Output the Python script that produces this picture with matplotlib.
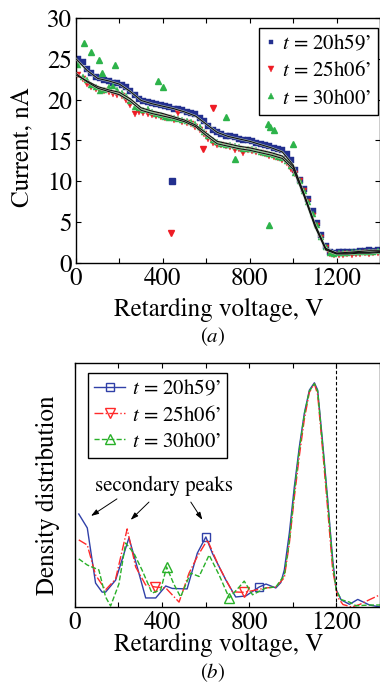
import numpy as np
import matplotlib
matplotlib.use("Agg")
import matplotlib.pyplot as plt
from matplotlib.ticker import FixedLocator, FuncFormatter

plt.rcParams['font.family'] = ['STIXGeneral', 'Liberation Serif', 'DejaVu Serif']
plt.rcParams['mathtext.fontset'] = 'stix'

# ---- panel (a): measured current ----
volt = np.arange(10, 1400, 20)

cur_blue = [25.0, 24.6, 23.8, 23.3, 22.8, 22.6, 22.4, 22.3, 22.1, 22.0,
            21.8, 21.5, 21.1, 20.6, 20.1, 19.8, 19.7, 19.6, 19.5, 19.3,
            19.2, 19.1, 18.9, 18.8, 18.7, 18.5, 18.4, 18.2, 17.8, 17.4,
            16.8, 16.3, 16.0, 15.8, 15.6, 15.5, 15.4, 15.2, 15.1, 15.0,
            14.9, 14.7, 14.6, 14.4, 14.3, 14.1, 13.9, 13.8, 13.4, 12.6,
            11.4, 10.2, 9.0, 7.8, 6.4, 4.9, 3.4, 2.1, 1.4, 1.2,
            1.3, 1.3, 1.4, 1.4, 1.4, 1.5, 1.5, 1.6, 1.5, 1.6]
cur_red = [23.0, 22.5, 21.9, 21.5, 21.3, 21.1, 21.0, 20.9, 20.7, 20.6,
           20.4, 20.0, 19.3, 18.3, 18.5, 18.4, 18.2, 18.1, 18.0, 17.9,
           17.8, 17.7, 17.5, 18.4, 17.3, 17.2, 17.0, 16.7, 16.3, 15.8,
           15.2, 14.7, 14.5, 14.4, 14.3, 14.2, 13.8, 14.0, 13.5, 13.8,
           13.7, 13.6, 13.5, 13.3, 13.1, 13.0, 12.8, 12.6, 12.3, 11.5,
           10.9, 10.0, 8.8, 7.5, 5.8, 4.5, 3.0, 1.8, 1.1, 1.0,
           1.0, 1.0, 1.1, 1.0, 1.1, 1.1, 1.2, 1.1, 1.2, 1.2]
cur_green = [24.2, 22.8, 22.4, 21.8, 21.5, 21.0, 21.2, 21.5, 21.7, 21.2,
             20.8, 20.4, 19.8, 19.1, 19.0, 18.7, 18.9, 18.5, 18.3, 18.1,
             17.9, 17.8, 17.7, 17.6, 17.5, 17.4, 17.3, 17.0, 16.6, 16.1,
             15.5, 15.0, 14.8, 14.6, 14.5, 14.4, 14.3, 14.2, 14.0, 14.0,
             13.9, 13.8, 13.6, 13.5, 13.3, 13.2, 13.0, 12.9, 12.5, 11.9,
             11.0, 10.0, 8.8, 7.5, 6.0, 4.6, 3.2, 1.9, 1.2, 1.1,
             1.2, 1.2, 1.2, 1.3, 1.3, 1.3, 1.4, 1.4, 1.4, 1.5]

# outliers
out_blue_v, out_blue_i = [440], [10.1]
out_red_v, out_red_i = [438, 586, 629], [3.7, 14.0, 19.0]
out_green_v = [37, 67, 105, 118, 179, 377, 400, 690, 731, 884, 892, 911, 1000, 890]
out_green_i = [26.9, 25.8, 24.9, 23.3, 24.3, 22.3, 21.6, 17.9, 12.7, 17.0, 16.6, 16.3, 14.6, 4.7]

# fitted curves
fit_v = np.arange(0, 1401, 50)
fit_blue = [25.0, 23.6, 22.6, 22.3, 21.9, 21.0, 19.9, 19.5, 19.2, 18.9, 18.5, 18.0, 17.0, 16.0, 15.5,
            15.2, 14.9, 14.5, 14.1, 13.6, 12.0, 8.5, 4.8, 1.8, 1.2, 1.3, 1.4, 1.5, 1.5]
fit_red = [23.2, 22.2, 21.4, 21.0, 20.6, 19.8, 18.7, 18.3, 18.0, 17.7, 17.3, 16.7, 15.6, 14.6, 14.3,
           14.0, 13.8, 13.5, 13.2, 12.8, 11.5, 8.2, 4.5, 1.6, 1.1, 1.1, 1.2, 1.2, 1.3]
fit_green = [23.0, 22.3, 21.6, 21.2, 20.9, 20.1, 19.0, 18.6, 18.3, 17.9, 17.5, 16.9, 15.9, 14.9, 14.6,
             14.3, 14.1, 13.8, 13.5, 13.1, 11.8, 8.4, 4.6, 1.7, 1.2, 1.2, 1.3, 1.3, 1.4]

labels = ["$t$ = 20h59\u2019", "$t$ = 25h06\u2019", "$t$ = 30h00\u2019"]
c_blue, c_red, c_green = "#23308f", "#ee1c25", "#2db34a"

# ---- panel (b): density distribution ----
dv_blue = [18, 57, 95, 125, 141, 187, 248, 286, 325, 371, 417, 447, 515, 562, 601, 631, 693, 738,
           784, 846, 877, 922, 945, 961, 984, 1007, 1030, 1053, 1076, 1099, 1114, 1137, 1160, 1183,
           1199, 1222, 1260, 1298, 1352, 1400]
dd_blue = [0.381, 0.324, 0.098, 0.061, 0.061, 0.11, 0.283, 0.164, 0.037, 0.037, 0.086, 0.076, 0.074,
           0.221, 0.287, 0.22, 0.11, 0.041, 0.045, 0.082, 0.094, 0.078, 0.10, 0.152, 0.303, 0.493,
           0.657, 0.795, 0.889, 0.919, 0.889, 0.672, 0.439, 0.193, 0.070, 0.029, 0.011, 0.031,
           0.008, 0.0]
dv_red = [18, 57, 95, 141, 187, 240, 279, 325, 368, 417, 478, 524, 562, 608, 662, 723, 777, 877,
          922, 961, 984, 1007, 1030, 1053, 1076, 1099, 1114, 1137, 1160, 1183, 1206, 1230, 1270,
          1306, 1352, 1400]
dd_red = [0.275, 0.254, 0.131, 0.07, 0.115, 0.32, 0.164, 0.09, 0.082, 0.078, 0.02, 0.139, 0.207,
          0.275, 0.164, 0.062, 0.06, 0.078, 0.082, 0.12, 0.26, 0.45, 0.62, 0.77, 0.88, 0.915, 0.87,
          0.64, 0.40, 0.15, 0.04, 0.01, 0.0, 0.01, 0.03, 0.05]
dv_green = [18, 57, 110, 141, 164, 202, 233, 271, 308, 354, 394, 421, 454, 485, 531, 570, 616, 662,
            708, 754, 777, 815, 877, 922, 961, 984, 1007, 1030, 1053, 1076, 1099, 1114, 1137, 1160,
            1183, 1199, 1222, 1260, 1290, 1352, 1400]
dd_green = [0.197, 0.172, 0.152, 0.041, 0.004, 0.094, 0.262, 0.22, 0.152, 0.057, 0.07, 0.164, 0.094,
            0.041, 0.139, 0.125, 0.213, 0.131, 0.037, 0.082, 0.106, 0.05, 0.078, 0.082, 0.13, 0.27,
            0.47, 0.645, 0.79, 0.885, 0.915, 0.885, 0.66, 0.43, 0.18, 0.07, 0.03, 0.02, 0.005,
            0.008, 0.008]

fig = plt.figure(figsize=(3.8, 6.84), dpi=100)


def style_axes(ax):
    ax.set_xlim(0, 1400)
    ax.xaxis.set_major_locator(FixedLocator(range(0, 1401, 200)))
    ax.xaxis.set_major_formatter(FuncFormatter(lambda v, p: "%d" % v if v % 400 == 0 and v < 1400 else ""))
    ax.tick_params(direction="in", top=True, right=True, labelsize=18, length=3.5, width=0.8, pad=3)
    for s in ax.spines.values():
        s.set_linewidth(1.0)


# panel (a)
ax1 = fig.add_axes([0.2, 0.6155, 0.8, 0.3582])
for cur, col, mk, ms, lab in [(cur_blue, c_blue, "s", 4.0, labels[0]),
                              (cur_red, c_red, "v", 4.8, labels[1]),
                              (cur_green, c_green, "^", 4.8, labels[2])]:
    ax1.plot(volt, cur, ls="none", marker=mk, ms=ms, color=col, mec=col, mew=0.3, label=lab)
ax1.plot(out_blue_v, out_blue_i, ls="none", marker="s", ms=4.0, color=c_blue)
ax1.plot(out_red_v, out_red_i, ls="none", marker="v", ms=4.8, color=c_red)
ax1.plot(out_green_v, out_green_i, ls="none", marker="^", ms=4.8, color=c_green)
for fit, col in [(fit_blue, c_blue), (fit_red, c_red), (fit_green, c_green)]:
    ax1.plot(fit_v, fit, color="#cfe3cf", lw=1.6, alpha=0.8, zorder=4)
    ax1.plot(fit_v, fit, color="#111111", lw=0.8, zorder=5)
ax1.set_ylim(0, 30)
ax1.set_yticks(range(0, 31, 5))
style_axes(ax1)
leg1 = ax1.legend(loc="upper right", bbox_to_anchor=(0.993, 0.96), fontsize=15,
                  handlelength=0.5, handletextpad=0.3, borderpad=0.3, labelspacing=0.35,
                  fancybox=False, framealpha=1, edgecolor="black", borderaxespad=0,
                  markerscale=0.8)
leg1.get_frame().set_linewidth(1.0)

# panel (b)
ax2 = fig.add_axes([0.197, 0.1126, 0.803, 0.3567])
ax2.plot(dv_blue, dd_blue, color="#3040a8", lw=1.0, ls="-", marker="s", ms=6, mfc="none",
         markevery=[14, 19], label=labels[0])
ax2.plot(dv_red, dd_red, color="#ff2a2a", lw=1.0, ls="-.", marker="v", ms=7, mfc="none",
         markevery=[8, 16], label=labels[1])
ax2.plot(dv_green, dd_green, color="#28b028", lw=1.0, ls="--", marker="^", ms=7, mfc="none",
         markevery=[11, 18], label=labels[2])
ax2.axvline(1200, color="black", lw=0.8, ls=(0, (3, 2)))
ax2.set_ylim(0, 1.0)
ax2.set_yticks([])
style_axes(ax2)
ax2.tick_params(axis="y", left=False, right=False)

ax2.text(410, 0.496, "secondary peaks", ha="center", va="center", fontsize=15)
arrow = dict(arrowstyle="-|>,head_length=0.45,head_width=0.15", lw=0.7, color="black",
             shrinkA=0, shrinkB=0)
ax2.annotate("", xy=(74, 0.373), xytext=(193, 0.443), arrowprops=arrow)
ax2.annotate("", xy=(256, 0.357), xytext=(340, 0.43), arrowprops=arrow)
ax2.annotate("", xy=(585, 0.357), xytext=(532, 0.43), arrowprops=arrow)

leg2 = ax2.legend(loc="upper left", bbox_to_anchor=(0.043, 0.959), fontsize=15,
                  handlelength=1.5, handletextpad=0.3, borderpad=0.3, labelspacing=0.3,
                  fancybox=False, framealpha=1, edgecolor="black", borderaxespad=0)
leg2.get_frame().set_linewidth(1.0)

# labels
fig.text(0.058, 1 - 147 / 684, "Current, nA", rotation=90, ha="center", va="center", fontsize=18)
fig.text(0.126, 1 - 495 / 684, "Density distribution", rotation=90, ha="center", va="center", fontsize=18)
fig.text(0.575, 1 - 310 / 684, "Retarding voltage, V", ha="center", va="center", fontsize=18)
fig.text(0.56, 1 - 337 / 684, "($a$)", ha="center", va="center", fontsize=15)
fig.text(0.575, 1 - 645 / 684, "Retarding voltage, V", ha="center", va="center", fontsize=18)
fig.text(0.56, 1 - 673 / 684, "($b$)", ha="center", va="center", fontsize=15)

fig.savefig("out.png", dpi=100)
